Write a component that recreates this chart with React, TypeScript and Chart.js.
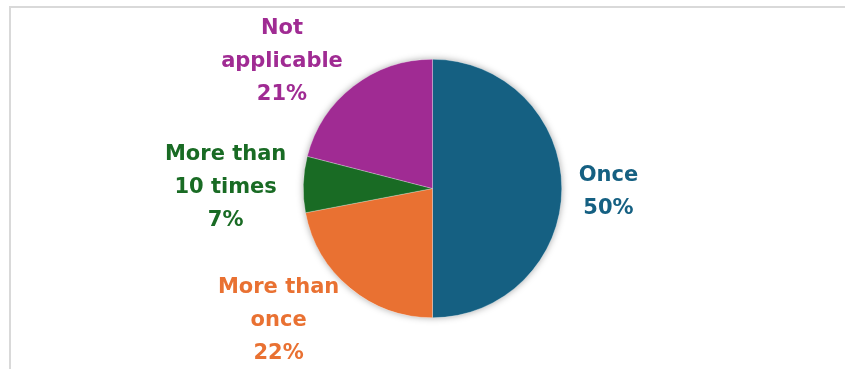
import React, { useEffect, useRef } from "react";
import { Chart, registerables } from "chart.js";

Chart.register(...registerables);

const categories = ["Once", "More than once", "More than 10 times", "Not applicable"];
const labelLines = [["Once"], ["More than", "once"], ["More than", "10 times"], ["Not", "applicable"]];
const values = [50, 22, 7, 21];
const colors = ["#156082", "#E97132", "#196B24", "#A02B93"];

const FONT = "bold 21px 'DejaVu Sans'";
const LINE_H = 33;

const framePlugin = {
  id: "frame",
  beforeDraw(chart: any) {
    const ctx = chart.ctx;
    ctx.save();
    ctx.strokeStyle = "#d9d9d9";
    ctx.lineWidth = 2;
    ctx.beginPath();
    ctx.moveTo(10, 369);
    ctx.lineTo(10, 7);
    ctx.lineTo(845, 7);
    ctx.stroke();
    ctx.restore();
  },
  beforeDatasetsDraw(chart: any) {
    const meta = chart.getDatasetMeta(0);
    const arc = meta.data[0];
    if (!arc) return;
    const { x, y, outerRadius } = arc.getProps(["x", "y", "outerRadius"], true);
    const ctx = chart.ctx;
    ctx.save();
    ctx.shadowColor = "rgba(0,0,0,0.35)";
    ctx.shadowBlur = 7;
    ctx.fillStyle = "#ffffff";
    ctx.beginPath();
    ctx.arc(x, y, outerRadius, 0, Math.PI * 2);
    ctx.fill();
    ctx.restore();
  },
};

const labelPlugin = {
  id: "outsideLabels",
  afterDatasetsDraw(chart: any) {
    const meta = chart.getDatasetMeta(0);
    const ctx = chart.ctx;
    const total = values.reduce((a, b) => a + b, 0);
    ctx.save();
    ctx.font = FONT;
    ctx.textAlign = "center";
    ctx.textBaseline = "middle";
    meta.data.forEach((el: any, i: number) => {
      const p = el.getProps(["x", "y", "startAngle", "endAngle", "outerRadius"], true);
      const mid = (p.startAngle + p.endAngle) / 2;
      const lines = [...labelLines[i], Math.round((values[i] / total) * 100) + "%"];
      const w = Math.max(...lines.map((l) => ctx.measureText(l).width));
      const cosA = Math.cos(mid);
      const sinA = Math.sin(mid);
      const ax = p.x + (p.outerRadius + 17) * cosA;
      const cy = p.y + (p.outerRadius + 37) * sinA + 4;
      const cx = cosA >= 0 ? ax + w / 2 : ax - w / 2;
      const h = lines.length * LINE_H;
      ctx.fillStyle = colors[i];
      lines.forEach((l, j) => {
        ctx.fillText(l, cx, cy - h / 2 + LINE_H / 2 + j * LINE_H);
      });
    });
    ctx.restore();
  },
};

export default function App() {
  const ref = useRef<HTMLCanvasElement | null>(null);
  useEffect(() => {
    if (!ref.current) return;
    const chart = new Chart(ref.current, {
      type: "pie",
      data: {
        labels: categories,
        datasets: [
          {
            data: values,
            backgroundColor: colors,
            borderColor: "rgba(255,255,255,0.5)",
            borderWidth: 0.5,
          },
        ],
      },
      options: {
        animation: false,
        responsive: false,
        layout: { padding: { top: 59, bottom: 51, left: 200, right: 180 } },
        plugins: { legend: { display: false }, tooltip: { enabled: false } },
      },
      plugins: [framePlugin, labelPlugin],
    });
    return () => chart.destroy();
  }, []);
  return (
    <div style={{ position: "fixed", left: 0, top: 0, width: 845, height: 369, background: "#fff" }}>
      <canvas ref={ref} width={845} height={369} style={{ display: "block" }} />
    </div>
  );
}
